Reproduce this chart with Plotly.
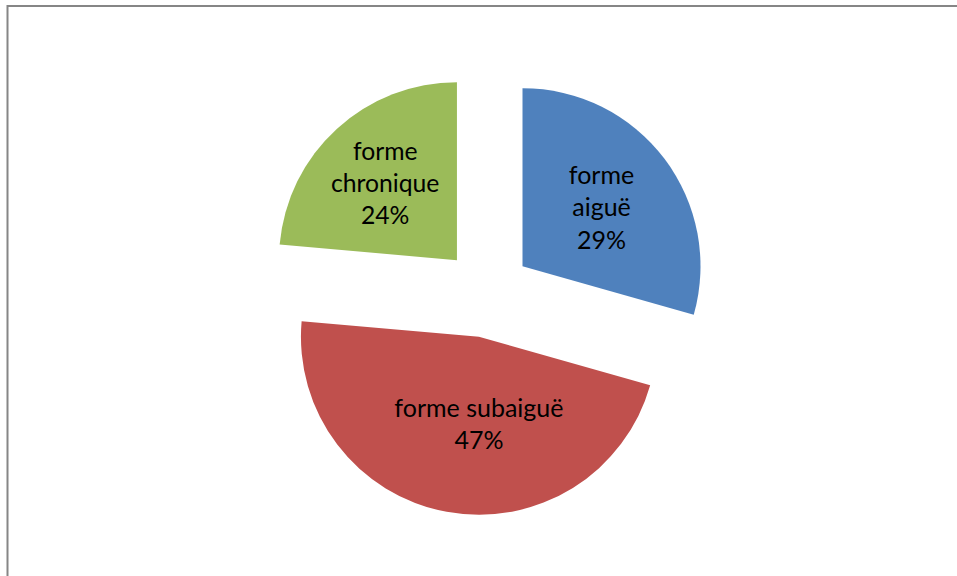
import plotly.graph_objects as go

labels = ["forme aiguë", "forme subaiguë", "forme chronique"]
text_labels = ["forme<br>aiguë", "forme subaiguë", "forme<br>chronique"]
values = [29.4, 47.0, 23.6]
colors = ["#4F81BD", "#C0504D", "#9BBB59"]

W, H = 957, 576
cx, cy = 487, 293
half = 222.5

fig = go.Figure(go.Pie(
    labels=labels,
    values=values,
    text=text_labels,
    texttemplate="%{text}<br>%{percent:.0%}",
    textinfo="text+percent",
    textposition="inside",
    insidetextorientation="horizontal",
    sort=False,
    direction="clockwise",
    rotation=0,
    pull=[0.25, 0.25, 0.25],
    marker=dict(colors=colors, line=dict(width=0)),
    textfont=dict(family="Lato", size=25, color="black"),
    showlegend=False,
    hoverinfo="label+percent",
    domain=dict(x=[(cx - 300) / W, (cx + 300) / W],
                y=[(H - (cy + half)) / H, (H - (cy - half)) / H]),
))

fig.update_layout(
    width=W, height=H,
    margin=dict(l=0, r=0, t=0, b=0),
    paper_bgcolor="white",
    shapes=[dict(type="rect", xref="paper", yref="paper",
                 x0=7.5 / W, x1=1.05, y0=-0.05, y1=1 - 6 / H,
                 line=dict(color="#868686", width=2), fillcolor="rgba(0,0,0,0)")],
)

fig.write_html("out.html")
